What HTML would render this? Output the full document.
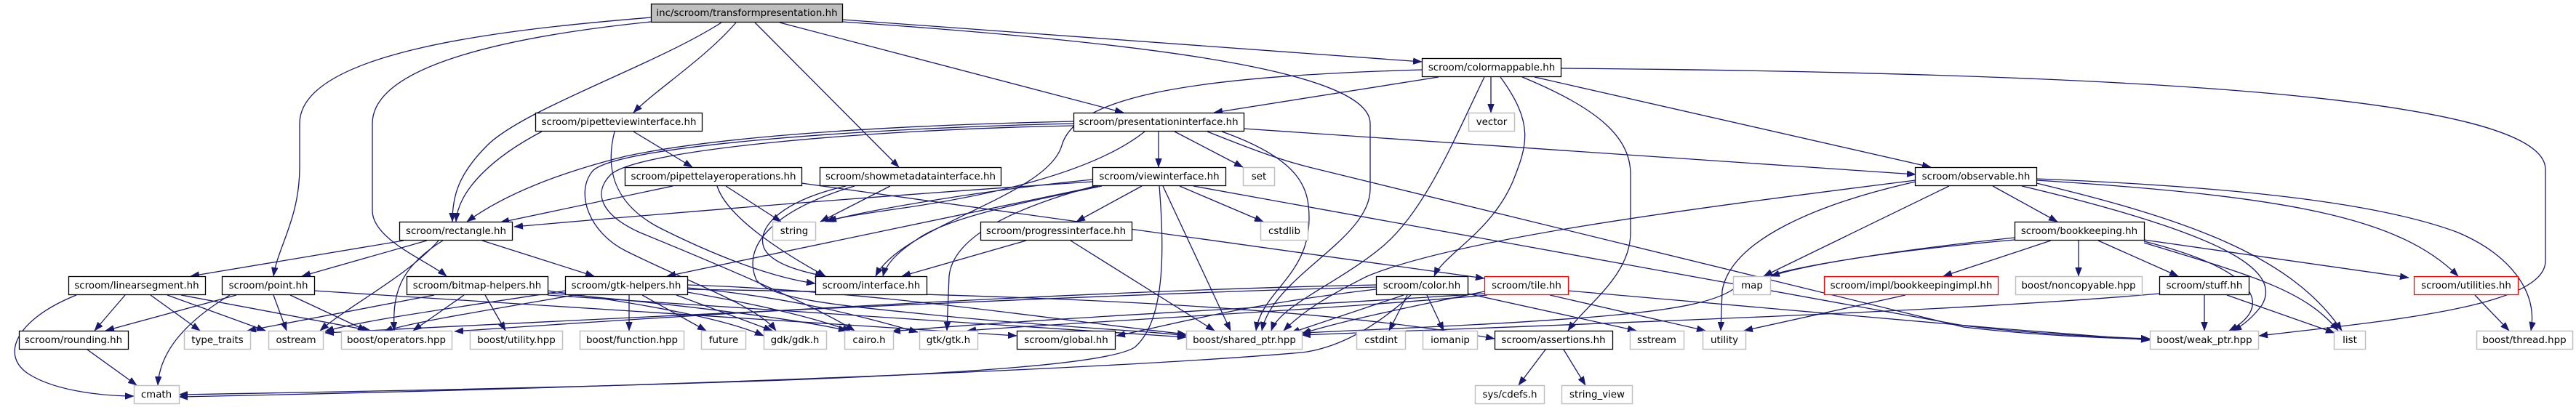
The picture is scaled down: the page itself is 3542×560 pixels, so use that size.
<!DOCTYPE html>
<html>
<head>
<meta charset="utf-8">
<style>
html,body{margin:0;padding:0;background:#fff;}
svg{display:block;}
text{font-family:"DejaVu Sans","Liberation Sans",sans-serif;font-size:13.4px;fill:#000;text-anchor:middle;}
.e{fill:none;stroke:#191970;stroke-width:1.3;marker-end:url(#ah);}
.nb{fill:#fff;stroke:#000;stroke-width:1.3;}
.ng{fill:#fff;stroke:#c0c0c0;stroke-width:1.5;}
.nr{fill:#fff;stroke:#ff0000;stroke-width:1.3;}
.nt{fill:#bfbfbf;stroke:#000;stroke-width:1.3;}
</style>
</head>
<body>
<svg width="3542" height="560" viewBox="0 0 3542 560" xmlns="http://www.w3.org/2000/svg">
<defs>
<marker id="ah" markerUnits="userSpaceOnUse" markerWidth="13" markerHeight="9" refX="12" refY="4.5" orient="auto">
<path d="M0,0 L12,4.5 L0,9 z" fill="#191970" stroke="#191970" stroke-width="0.5"/>
</marker>
</defs>

<!-- edges -->
<g>
<path class="e" d="M895,24 C700,40 412,70 412,170 L412,230 C412,300 382,340 376,380"/>
<path class="e" d="M895,30 C700,50 512,90 512,170 L512,290 C512,330 590,360 614,380"/>
<path class="e" d="M992,31 C900,90 720,150 670,200 C630,240 622,270 622,305"/>
<path class="e" d="M1012,31 C970,80 900,125 871,155"/>
<path class="e" d="M1038,31 L1236,230"/>
<path class="e" d="M1072,31 L1545,155"/>
<path class="e" d="M1158,27 L1955,85"/>
<path class="e" d="M1158,30 C1600,60 1884,100 1884,170 L1884,260 C1884,330 1750,380 1735,455"/>

<path class="e" d="M1978,106 L1669,155"/>
<path class="e" d="M1955,96 C1650,105 1480,130 1460,200 C1440,270 1240,310 1204,380"/>
<path class="e" d="M2063,106 C2110,170 2100,200 2080,250 C2050,320 1985,350 1972,380"/>
<path class="e" d="M2041,106 C2000,190 1960,290 1900,340 C1840,390 1760,420 1748,455"/>
<path class="e" d="M2050,106 L2050,155"/>
<path class="e" d="M2093,106 C2200,150 2242,190 2242,240 L2242,320 C2242,380 2180,420 2156,455"/>
<path class="e" d="M2110,106 L2655,230"/>
<path class="e" d="M2146,94 C2900,100 3500,130 3500,233 L3500,359 C3500,420 3300,440 3106,462"/>

<path class="e" d="M745,181 C680,215 630,260 627,305"/>
<path class="e" d="M871,181 L952,230"/>
<path class="e" d="M845,181 C830,240 850,285 910,315 C980,350 1060,382 1121,390"/>

<path class="e" d="M1476,167 C1250,172 1000,185 860,215 C760,240 690,270 642,305"/>
<path class="e" d="M1476,170 C1200,176 850,200 815,235 C790,265 810,320 860,345 C950,390 1040,420 1067,455"/>
<path class="e" d="M1476,173 C1200,178 880,205 840,240 C815,265 825,295 880,320 C990,365 1120,420 1175,455"/>
<path class="e" d="M1593,181 L1593,230"/>
<path class="e" d="M1615,181 L1709,230"/>
<path class="e" d="M1574,181 C1500,240 1350,270 1250,285 C1180,295 1150,300 1135,305"/>
<path class="e" d="M1710,177 L2634,240"/>
<path class="e" d="M1660,181 C1720,205 1760,220 1800,230 L2700,450 C2800,462 2900,465 2956,467"/>
<path class="e" d="M1680,181 C1790,220 1800,260 1800,300 C1800,380 1735,400 1727,455"/>

<path class="e" d="M925,256 L688,306"/>
<path class="e" d="M998,256 L1074,305"/>
<path class="e" d="M986,256 C1000,300 1080,350 1135,380"/>
<path class="e" d="M1102,252 L2041,383"/>

<path class="e" d="M1224,256 L1128,305"/>
<path class="e" d="M1163,256 C1080,275 1040,310 1050,340 C1060,365 1110,375 1133,380"/>
<path class="e" d="M1175,256 C1060,290 1020,340 1040,385 C1060,412 1150,420 1300,435 C1450,450 1580,455 1631,462"/>

<path class="e" d="M1502,250 C1200,270 900,295 707,312"/>
<path class="e" d="M1510,256 C1300,300 1100,340 917,380"/>
<path class="e" d="M1502,247 C1350,262 1200,288 1138,304"/>
<path class="e" d="M1515,256 C1400,280 1300,300 1260,330 C1230,350 1218,365 1214,380"/>
<path class="e" d="M1570,256 L1480,305"/>
<path class="e" d="M1622,256 L1737,305"/>
<path class="e" d="M1599,256 L1692,455"/>
<path class="e" d="M1594,256 C1600,330 1605,440 1560,478 C1500,515 1000,530 246,543"/>
<path class="e" d="M1505,256 C1380,290 1310,330 1305,380 L1302,455"/>
<path class="e" d="M1641,256 L2700,448 C2800,460 2900,464 2956,466"/>

<path class="e" d="M1411,331 L1240,380"/>
<path class="e" d="M1472,331 L1670,455"/>

<path class="e" d="M2740,256 L2829,305"/>
<path class="e" d="M2680,256 L2425,380"/>
<path class="e" d="M2634,250 C2500,280 2380,330 2368,400 L2366,455"/>
<path class="e" d="M2634,248 C2300,290 2000,330 1880,380 C1820,410 1790,430 1765,455"/>
<path class="e" d="M2780,256 C3050,320 3140,370 3110,420 C3095,440 3080,450 3070,455"/>
<path class="e" d="M2800,252 C3000,300 3150,350 3220,455"/>
<path class="e" d="M2800,248 C3150,270 3300,300 3380,380"/>
<path class="e" d="M2800,246 C3150,260 3300,290 3380,320 C3450,350 3490,400 3480,455"/>

<path class="e" d="M2770,327 C2600,345 2480,365 2435,380"/>
<path class="e" d="M2770,330 C2600,345 2420,370 2380,400 C2330,430 2200,440 1790,458"/>
<path class="e" d="M2820,331 L2672,380"/>
<path class="e" d="M2858,331 L2858,380"/>
<path class="e" d="M2885,331 L2995,380"/>
<path class="e" d="M2948,330 L3312,382"/>
<path class="e" d="M2948,332 C3100,370 3130,420 3065,455"/>
<path class="e" d="M2948,334 C3100,380 3170,400 3215,455"/>

<path class="e" d="M2969,404 C2700,428 2200,445 1790,461"/>
<path class="e" d="M3031,406 L3031,455"/>
<path class="e" d="M3062,406 L3210,458"/>
<path class="e" d="M3403,406 L3450,455"/>
<path class="e" d="M2620,406 L2398,455"/>
<path class="e" d="M2131,406 L2345,455"/>
<path class="e" d="M2156,400 L2750,452 C2850,460 2920,465 2956,468"/>
<path class="e" d="M2041,401 C1950,420 1850,440 1790,459"/>
<path class="e" d="M2041,404 C1800,420 1400,440 1226,456"/>
<path class="e" d="M2045,406 C1800,428 1450,445 1330,455"/>

<path class="e" d="M1935,406 L1910,455"/>
<path class="e" d="M1962,406 L1985,455"/>
<path class="e" d="M2018,404 L2250,455"/>
<path class="e" d="M1940,406 C1880,460 1830,480 1790,485 C1500,510 800,535 246,546"/>
<path class="e" d="M1892,392 C1500,400 1000,430 625,456"/>
<path class="e" d="M1892,395 C1500,405 800,440 447,458"/>
<path class="e" d="M1892,398 C1700,420 1600,450 1535,462"/>
<path class="e" d="M1930,406 L1775,458"/>

<path class="e" d="M105,406 C20,440 0,490 40,515 C80,540 150,545 184,545"/>
<path class="e" d="M172,406 L130,455"/>
<path class="e" d="M207,406 L275,455"/>
<path class="e" d="M230,406 L365,455"/>
<path class="e" d="M249,406 L510,455"/>

<path class="e" d="M376,406 L394,455"/>
<path class="e" d="M399,406 L504,455"/>
<path class="e" d="M325,406 L145,455"/>
<path class="e" d="M316,406 C260,440 220,480 217,530"/>
<path class="e" d="M432,400 C800,425 1100,445 1398,462"/>
<path class="e" d="M120,481 L188,530"/>

<path class="e" d="M555,331 L262,380"/>
<path class="e" d="M587,331 L415,380"/>
<path class="e" d="M603,331 C560,380 480,420 440,455"/>
<path class="e" d="M609,331 C545,370 540,410 542,455"/>
<path class="e" d="M663,331 L817,380"/>

<path class="e" d="M597,406 L340,455"/>
<path class="e" d="M638,406 L568,455"/>
<path class="e" d="M667,406 L695,455"/>
<path class="e" d="M753,400 C900,420 1000,440 1050,462"/>
<path class="e" d="M753,403 C950,420 1100,440 1165,455"/>
<path class="e" d="M753,406 C1100,430 1400,450 1631,464"/>

<path class="e" d="M865,406 L865,455"/>
<path class="e" d="M883,406 L971,455"/>
<path class="e" d="M930,406 L1062,455"/>
<path class="e" d="M945,402 C1050,420 1130,440 1170,456"/>
<path class="e" d="M945,396 C1100,410 1200,440 1262,457"/>
<path class="e" d="M945,392 C1200,400 1450,440 1631,460"/>
<path class="e" d="M790,406 C650,430 560,445 528,456"/>
<path class="e" d="M777,400 C650,420 500,440 447,456"/>
<path class="e" d="M945,398 C1400,405 1800,420 2055,466"/>

<path class="e" d="M2125,481 L2088,530"/>
<path class="e" d="M2150,481 L2180,530"/>
</g>

<!-- nodes -->
<g>
<!-- row 0 -->
<rect class="nt" x="895.5" y="5.5" width="263" height="25"/><text x="1027" y="22">inc/scroom/transformpresentation.hh</text>
<!-- row 1 -->
<rect class="nb" x="1955.5" y="80.5" width="191" height="25"/><text x="2051" y="97">scroom/colormappable.hh</text>
<!-- row 2 -->
<rect class="nb" x="736.5" y="155.5" width="229" height="25"/><text x="851" y="172">scroom/pipetteviewinterface.hh</text>
<rect class="nb" x="1476.5" y="155.5" width="234" height="25"/><text x="1593" y="172">scroom/presentationinterface.hh</text>
<rect class="ng" x="2019.5" y="155.5" width="63" height="25"/><text x="2051" y="172">vector</text>
<!-- row 3 -->
<rect class="nb" x="859.5" y="230.5" width="243" height="25"/><text x="981" y="247">scroom/pipettelayeroperations.hh</text>
<rect class="nb" x="1127.5" y="230.5" width="249" height="25"/><text x="1252" y="247">scroom/showmetadatainterface.hh</text>
<rect class="nb" x="1502.5" y="230.5" width="183" height="25"/><text x="1594" y="247">scroom/viewinterface.hh</text>
<rect class="ng" x="1709.5" y="230.5" width="43" height="25"/><text x="1731" y="247">set</text>
<rect class="nb" x="2633.5" y="230.5" width="167" height="25"/><text x="2717" y="247">scroom/observable.hh</text>
<!-- row 4 -->
<rect class="nb" x="549.5" y="305.5" width="155" height="25"/><text x="627" y="322">scroom/rectangle.hh</text>
<rect class="ng" x="1062.5" y="305.5" width="59" height="25"/><text x="1092" y="322">string</text>
<rect class="nb" x="1348.5" y="305.5" width="208" height="25"/><text x="1452" y="322">scroom/progressinterface.hh</text>
<rect class="ng" x="1733.5" y="305.5" width="65" height="25"/><text x="1766" y="322">cstdlib</text>
<rect class="nb" x="2770.5" y="305.5" width="178" height="25"/><text x="2859" y="322">scroom/bookkeeping.hh</text>
<!-- row 5 -->
<rect class="nb" x="94.5" y="380.5" width="188" height="25"/><text x="188" y="397">scroom/linearsegment.hh</text>
<rect class="nb" x="305.5" y="380.5" width="127" height="25"/><text x="369" y="397">scroom/point.hh</text>
<rect class="nb" x="559.5" y="380.5" width="194" height="25"/><text x="656" y="397">scroom/bitmap-helpers.hh</text>
<rect class="nb" x="777.5" y="380.5" width="168" height="25"/><text x="861" y="397">scroom/gtk-helpers.hh</text>
<rect class="nb" x="1121.5" y="380.5" width="153" height="25"/><text x="1198" y="397">scroom/interface.hh</text>
<rect class="nb" x="1892.5" y="380.5" width="126" height="25"/><text x="1955" y="397">scroom/color.hh</text>
<rect class="nr" x="2041.5" y="380.5" width="115" height="25"/><text x="2099" y="397">scroom/tile.hh</text>
<rect class="ng" x="2383.5" y="380.5" width="51" height="25"/><text x="2409" y="397">map</text>
<rect class="nr" x="2508.5" y="380.5" width="239" height="25"/><text x="2628" y="397">scroom/impl/bookkeepingimpl.hh</text>
<rect class="ng" x="2771.5" y="380.5" width="174" height="25"/><text x="2858" y="397">boost/noncopyable.hpp</text>
<rect class="nb" x="2969.5" y="380.5" width="123" height="25"/><text x="3031" y="397">scroom/stuff.hh</text>
<rect class="nr" x="3319.5" y="380.5" width="143" height="25"/><text x="3391" y="397">scroom/utilities.hh</text>
<!-- row 6 -->
<rect class="nb" x="26.5" y="455.5" width="150" height="25"/><text x="101" y="472">scroom/rounding.hh</text>
<rect class="ng" x="253.5" y="455.5" width="91" height="25"/><text x="299" y="472">type_traits</text>
<rect class="ng" x="369.5" y="455.5" width="75" height="25"/><text x="407" y="472">ostream</text>
<rect class="ng" x="469.5" y="455.5" width="152" height="25"/><text x="545" y="472">boost/operators.hpp</text>
<rect class="ng" x="646.5" y="455.5" width="127" height="25"/><text x="710" y="472">boost/utility.hpp</text>
<rect class="ng" x="797.5" y="455.5" width="143" height="25"/><text x="869" y="472">boost/function.hpp</text>
<rect class="ng" x="964.5" y="455.5" width="61" height="25"/><text x="995" y="472">future</text>
<rect class="ng" x="1050.5" y="455.5" width="86" height="25"/><text x="1093" y="472">gdk/gdk.h</text>
<rect class="ng" x="1161.5" y="455.5" width="67" height="25"/><text x="1195" y="472">cairo.h</text>
<rect class="ng" x="1264.5" y="455.5" width="80" height="25"/><text x="1304" y="472">gtk/gtk.h</text>
<rect class="nb" x="1398.5" y="455.5" width="135" height="25"/><text x="1466" y="472">scroom/global.hh</text>
<rect class="ng" x="1631.5" y="455.5" width="159" height="25"/><text x="1711" y="472">boost/shared_ptr.hpp</text>
<rect class="ng" x="1865.5" y="455.5" width="67" height="25"/><text x="1899" y="472">cstdint</text>
<rect class="ng" x="1956.5" y="455.5" width="75" height="25"/><text x="1994" y="472">iomanip</text>
<rect class="nb" x="2055.5" y="455.5" width="162" height="25"/><text x="2136" y="472">scroom/assertions.hh</text>
<rect class="ng" x="2241.5" y="455.5" width="74" height="25"/><text x="2278" y="472">sstream</text>
<rect class="ng" x="2341.5" y="455.5" width="59" height="25"/><text x="2371" y="472">utility</text>
<rect class="ng" x="2956.5" y="455.5" width="149" height="25"/><text x="3031" y="472">boost/weak_ptr.hpp</text>
<rect class="ng" x="3209.5" y="455.5" width="43" height="25"/><text x="3231" y="472">list</text>
<rect class="ng" x="3405.5" y="455.5" width="132" height="25"/><text x="3471" y="472">boost/thread.hpp</text>
<!-- row 7 -->
<rect class="ng" x="184.5" y="530.5" width="62" height="25"/><text x="215" y="547">cmath</text>
<rect class="ng" x="2028.5" y="530.5" width="95" height="25"/><text x="2076" y="547">sys/cdefs.h</text>
<rect class="ng" x="2147.5" y="530.5" width="97" height="25"/><text x="2196" y="547">string_view</text>
</g>
</svg>
</body>
</html>
